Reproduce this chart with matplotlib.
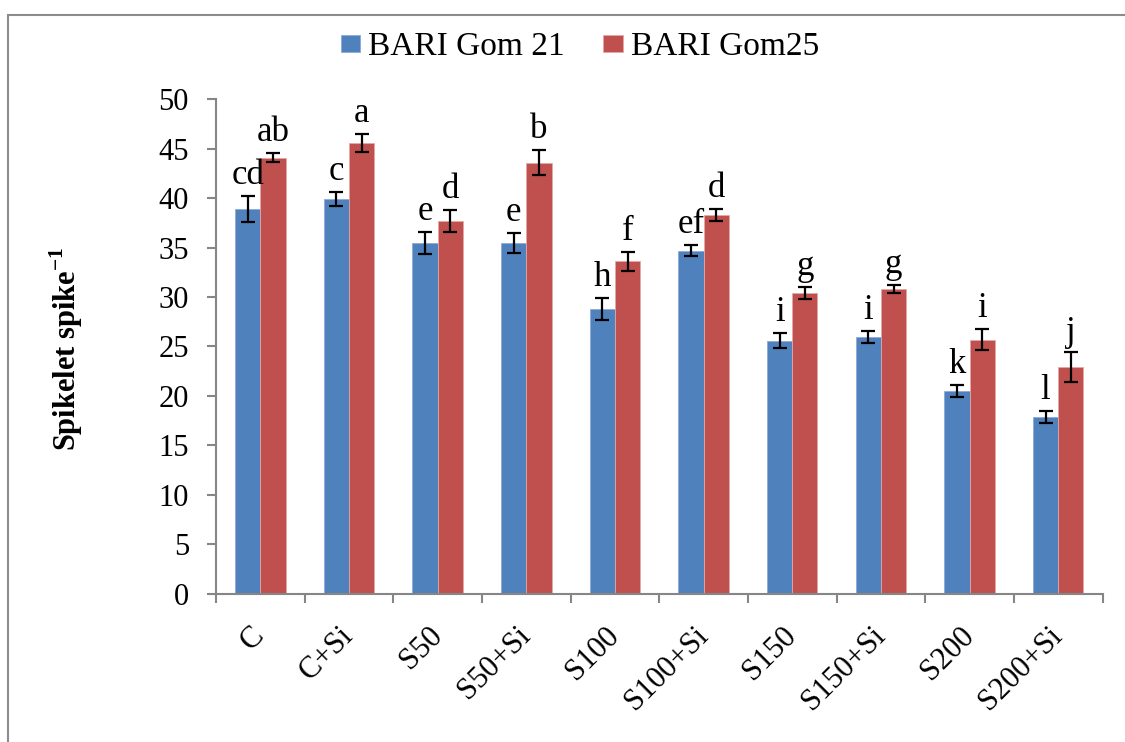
import numpy as np
import matplotlib
matplotlib.use("Agg")
import matplotlib.pyplot as plt
from matplotlib.patches import Rectangle

plt.rcParams['font.family'] = ['Liberation Serif', 'DejaVu Serif']
plt.rcParams['mathtext.fontset'] = 'custom'
plt.rcParams['mathtext.rm'] = 'Liberation Serif'
plt.rcParams['mathtext.bf'] = 'Liberation Serif:bold'

# Treatments and spikelet counts
treatments = ["C", "C+Si", "S50", "S50+Si", "S100", "S100+Si",
              "S150", "S150+Si", "S200", "S200+Si"]
series_names = ["BARI Gom 21", "BARI Gom25"]

gom21 = [38.9, 39.9, 35.5, 35.5, 28.8, 34.7, 25.6, 26.0, 20.5, 17.9]
gom25 = [44.1, 45.6, 37.7, 43.6, 33.6, 38.3, 30.4, 30.8, 25.7, 22.9]

gom21_err = [1.3, 0.7, 1.1, 1.0, 1.1, 0.6, 0.8, 0.6, 0.6, 0.6]
gom25_err = [0.45, 0.9, 1.15, 1.3, 1.0, 0.65, 0.6, 0.4, 1.1, 1.5]

gom21_letters = ["cd", "c", "e", "e", "h", "ef", "i", "i", "k", "l"]
gom25_letters = ["ab", "a", "d", "b", "f", "d", "g", "g", "i", "j"]

yticks = [0, 5, 10, 15, 20, 25, 30, 35, 40, 45, 50]

blue = "#4F81BD"
red = "#C0504D"
axis_grey = "#868686"

fig = plt.figure(figsize=(11.25, 7.42), dpi=100)
ax = fig.add_axes([0.192, 0.1999, 0.788, 0.6663])

x = np.arange(len(treatments))
w = 0.285

err_kw = dict(ecolor="black", elinewidth=1.6, capsize=4.8, capthick=1.6)
b1 = ax.bar(x - w / 2, gom21, w, color=blue, edgecolor="#8DAAD6", linewidth=0.6,
            yerr=gom21_err, error_kw=err_kw, label=series_names[0], zorder=2)
b2 = ax.bar(x + w / 2, gom25, w, color=red, edgecolor="#E3A9A7", linewidth=0.6,
            yerr=gom25_err, error_kw=err_kw, label=series_names[1], zorder=2)

# Significance letters above each error bar
for xs, vals, errs, letters in [(x - w / 2, gom21, gom21_err, gom21_letters),
                                 (x + w / 2, gom25, gom25_err, gom25_letters)]:
    for xi, v, e, t in zip(xs, vals, errs, letters):
        ax.annotate(t, (xi, v + e), xytext=(0, 8.5), textcoords="offset points",
                    ha="center", va="baseline", fontsize=25)

ax.set_xlim(-0.5, len(treatments) - 0.5)
ax.set_ylim(0, 50)
ax.set_yticks(yticks)
ax.set_yticklabels([str(v) for v in yticks], fontsize=22)
ax.tick_params(axis="y", direction="out", length=6.5, width=1.5,
               color=axis_grey, pad=13)

# Category boundaries carry tick marks; names sit at category centres
ax.set_xticks(np.arange(-0.5, len(treatments), 1.0))
ax.set_xticklabels([])
ax.set_xticks(x, minor=True)
ax.set_xticklabels(treatments, minor=True, rotation=45, ha="right",
                   va="center", rotation_mode="anchor", fontsize=22)
ax.tick_params(axis="x", which="major", direction="out", length=6.5, width=1.5,
               color=axis_grey)
ax.tick_params(axis="x", which="minor", length=0, pad=27)

for side in ["top", "right"]:
    ax.spines[side].set_visible(False)
for side in ["left", "bottom"]:
    ax.spines[side].set_color(axis_grey)
    ax.spines[side].set_linewidth(1.5)

fig.text(66 / 1125, 1 - 349 / 742, r"Spikelet spike$^{\mathbf{-1}}$",
         rotation=90, ha="center", va="center", fontsize=22, fontweight="bold")

fig.legend(handles=[b1, b2], labels=series_names, loc="center",
           bbox_to_anchor=(580 / 1125, 1 - 47 / 742), ncol=2, frameon=False,
           fontsize=24, handlelength=0.58, handleheight=0.43,
           handletextpad=0.24, columnspacing=1.15)

# Outer chart frame
fig.patches.append(Rectangle((8 / 1125, -0.05), 1.2, 1 - 15 / 742 + 0.05,
                             transform=fig.transFigure, fill=False,
                             edgecolor="#8C8C8C", linewidth=1.5))

fig.savefig("out.png", dpi=100)
